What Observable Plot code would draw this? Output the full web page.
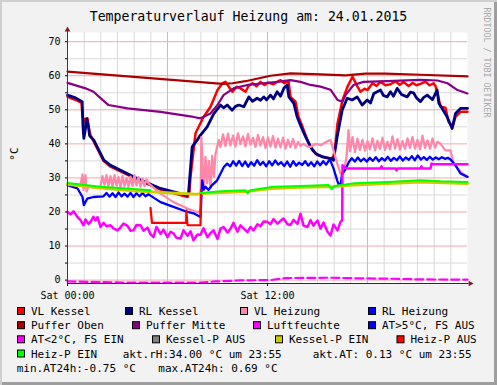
<!DOCTYPE html>
<html><head><meta charset="utf-8">
<script src="https://cdn.jsdelivr.net/npm/d3@7"></script>
<script src="https://cdn.jsdelivr.net/npm/@observablehq/plot@0.6"></script>
<style>
html,body{margin:0;padding:0;background:#f2f2f2;}
#wrap{position:relative;width:497px;height:385px;background:#f2f2f2;box-shadow: inset 2px 2px 0 #cfcfcf, inset -3px -3px 0 #9e9e9e;overflow:hidden;}
#wrap svg{position:absolute;left:0;top:0;}
</style></head><body><div id="wrap"></div>
<script>
// ---------- data (hours since 00:00, °C / %) ----------
const titleText = "Temperaturverlauf Heizung am: 24.01.2015";
const watermark = "RRDTOOL / TOBI OETIKER";
const yUnit = "°C";
const xLabelTicks = [0, 12];
const xLabels = ["Sat 00:00", "Sat 12:00"];
const yTicks = [0, 5, 10, 15, 20, 25, 30, 35, 40, 45, 50, 55, 60, 65, 70];

const pufferOben = [[0,61.2],[9.3,57.6],[9.9,57.8],[10.68,58.4],[12.18,60.0],[13.38,60.7],[15.18,60.4],[16.68,60.1],[17.88,60.6],[19.08,60.6],[21.18,60.3],[24,59.8]];

const pufferMitte = [[0,57.9],[1.08,56.3],[1.56,55.3],[2.1,52.9],[2.46,51.4],[3.6,50.4],[5.58,49.4],[7.56,47.9],[7.98,47.5],[8.58,48.9],[9.0,51.4],[9.36,54.3],[9.96,56.3],[10.8,57.3],[11.76,57.8],[12.6,58.2],[13.38,58.7],[13.98,58.2],[14.58,57.3],[15.18,56.8],[15.78,55.9],[16.2,52.9],[16.5,52.4],[16.68,54.3],[17.16,57.3],[17.76,58.2],[19.2,58.4],[21.18,58.8],[22.2,58.6],[22.8,57.8],[23.4,55.8],[24,54.8]];

const vlKessel = [[0,53.8],[0.54,52.8],[0.84,52.0],[0.9,48.0],[1.02,47.0],[1.14,45.5],[1.2,47.5],[1.26,45.0],[1.38,42.5],[1.56,40.8],[2.16,35.0],[2.58,33.3],[4.2,29.5],[5.58,26.6],[7.2,24.4],[7.32,26.0],[7.38,30.3],[7.68,43.1],[8.16,47.9],[8.58,50.9],[9.0,55.8],[9.3,57.8],[9.48,58.2],[9.72,56.5],[9.9,55.3],[10.14,56.8],[10.38,56.3],[10.68,55.3],[10.86,57.0],[11.1,57.8],[11.34,56.9],[11.58,58.2],[11.82,57.3],[12.06,58.0],[12.36,57.5],[12.6,58.3],[12.78,58.7],[13.02,57.8],[13.26,58.4],[13.38,53.8],[13.68,52.4],[13.86,47.9],[14.1,45.0],[14.4,41.1],[14.7,38.1],[15.0,36.7],[15.36,36.2],[15.78,35.7],[15.96,36.2],[16.08,40.0],[16.2,46.0],[16.5,52.9],[16.8,56.8],[17.1,59.7],[17.4,56.8],[17.58,55.3],[17.82,56.2],[18.0,55.8],[18.3,57.8],[18.54,57.0],[18.78,58.2],[19.08,57.2],[19.38,57.5],[19.68,58.4],[19.92,57.3],[20.16,58.2],[20.46,57.0],[20.7,57.9],[20.94,57.2],[21.18,57.6],[21.48,58.3],[21.72,57.2],[21.96,57.8],[22.08,57.0],[22.2,54.8],[22.38,50.9],[22.68,50.6],[22.86,46.5],[23.1,45.0],[23.28,47.9],[23.58,49.4],[24,49.4]];

const rlKessel = [[0,54.3],[0.48,53.5],[0.88,52.4],[0.93,45.0],[0.98,41.6],[1.08,44.5],[1.14,47.4],[1.2,46.5],[1.26,45.0],[1.32,42.5],[1.38,42.1],[1.58,41.1],[2.18,35.2],[2.58,33.7],[4.18,29.8],[5.58,26.9],[7.18,24.9],[7.26,25.5],[7.48,39.1],[7.78,41.1],[7.98,42.6],[8.38,45.0],[8.78,48.9],[9.18,51.4],[9.36,50.6],[9.58,51.4],[9.88,49.9],[10.08,51.0],[10.28,51.4],[10.58,50.9],[10.88,53.8],[11.1,52.5],[11.38,53.4],[11.58,52.8],[11.78,53.8],[11.94,52.9],[12.18,54.3],[12.36,53.2],[12.58,55.3],[12.78,54.0],[12.98,56.3],[13.18,57.3],[13.28,53.8],[13.58,51.9],[13.78,47.9],[13.98,45.5],[14.28,42.1],[14.58,39.1],[14.88,37.2],[15.28,36.2],[15.78,35.7],[15.96,35.2],[16.18,42.1],[16.48,49.9],[16.78,53.4],[17.08,52.9],[17.38,53.8],[17.68,51.4],[17.98,52.9],[18.18,52.0],[18.38,54.8],[18.78,55.8],[18.96,54.2],[19.18,53.8],[19.38,55.3],[19.56,54.0],[19.78,56.3],[20.04,54.5],[20.38,53.8],[20.58,55.2],[20.76,55.0],[20.94,53.5],[21.18,52.4],[21.36,53.6],[21.58,54.3],[21.9,53.0],[22.18,55.8],[22.28,51.9],[22.48,50.4],[22.78,47.9],[23.08,44.5],[23.28,48.9],[23.58,50.4],[24,50.4]];

const vlHeizung = [[0,28.0],[0.78,28.0],[0.9,31.0],[0.96,26.5],[1.08,30.8],[1.14,26.0],[1.26,27.5],[1.74,27.0],[1.98,27.5],[2.1,30.5],[2.22,28.0],[2.34,30.8],[2.46,27.6],[2.58,30.5],[2.7,27.4],[2.82,30.8],[2.94,27.8],[3.06,30.2],[3.18,27.4],[3.3,30.6],[3.42,27.6],[3.54,30.0],[3.66,27.4],[3.78,30.4],[3.9,27.6],[4.02,30.8],[4.14,27.8],[4.26,30.2],[4.38,27.4],[4.5,29.8],[4.62,27.6],[4.74,29.6],[4.86,28.4],[5.58,25.4],[6.36,22.9],[7.2,21.0],[7.74,20.0],[7.98,20.0],[8.03,42.0],[8.18,26.4],[8.28,36.2],[8.38,28.4],[8.48,35.0],[8.58,27.0],[8.68,36.5],[8.78,30.4],[8.88,37.0],[9.08,41.1],[9.18,39.1],[9.33,42.8],[9.48,39.4],[9.63,43.0],[9.78,39.6],[9.93,42.4],[10.08,39.2],[10.23,43.1],[10.38,40.0],[10.53,42.2],[10.68,39.3],[10.83,42.9],[10.98,39.8],[11.13,41.8],[11.28,39.1],[11.43,42.6],[11.58,39.5],[11.73,42.0],[11.88,38.8],[12.03,41.9],[12.18,39.2],[12.33,42.3],[12.48,38.9],[12.63,41.5],[12.78,39.0],[12.93,41.8],[13.08,38.6],[13.23,41.2],[13.38,39.0],[13.53,41.4],[13.68,38.8],[13.83,40.6],[13.98,39.4],[14.16,40.0],[14.4,39.2],[14.58,39.1],[14.8,39.8],[14.94,40.0],[15.2,39.6],[15.36,40.1],[15.6,40.8],[15.78,41.1],[15.96,38.1],[16.18,34.3],[16.38,31.3],[16.56,31.3],[16.74,36.0],[16.86,44.0],[16.95,37.8],[17.1,42.0],[17.25,37.6],[17.4,41.5],[17.55,38.2],[17.7,41.2],[17.85,38.0],[18.0,40.8],[18.15,38.4],[18.3,41.6],[18.45,38.1],[18.6,40.9],[18.75,38.5],[18.9,41.8],[19.05,38.2],[19.2,40.6],[19.35,38.4],[19.5,42.2],[19.65,38.6],[19.8,41.4],[19.95,38.3],[20.1,40.8],[20.25,38.5],[20.4,41.6],[20.55,38.8],[20.7,42.0],[20.85,38.6],[21.0,41.2],[21.15,38.4],[21.3,42.4],[21.45,38.8],[21.6,41.0],[21.75,38.6],[21.9,41.6],[22.05,38.9],[22.2,40.6],[22.38,40.0],[22.68,38.1],[22.98,38.1],[23.16,34.3],[23.58,31.8],[24,30.3]];

const rlHeizung = [[0,27.9],[0.6,26.9],[0.9,24.4],[0.98,22.0],[1.18,23.9],[1.56,24.4],[2.16,24.6],[2.34,25.6],[2.52,24.5],[2.7,25.5],[2.88,24.4],[3.06,25.7],[3.24,24.6],[3.42,25.4],[3.6,24.5],[3.78,25.6],[3.96,24.4],[4.14,25.5],[4.32,24.6],[4.5,25.6],[4.68,24.6],[4.86,25.2],[4.98,24.8],[5.58,22.9],[6.36,21.5],[7.2,20.0],[7.56,19.6],[7.98,18.5],[8.08,29.3],[8.18,26.6],[8.28,27.4],[8.46,26.5],[8.68,27.9],[8.98,29.3],[9.38,33.2],[9.58,34.2],[9.76,33.4],[9.94,34.9],[10.12,33.6],[10.3,35.0],[10.48,33.5],[10.66,34.8],[10.84,33.3],[11.02,34.6],[11.2,33.6],[11.38,35.2],[11.56,33.8],[11.74,34.7],[11.92,33.4],[12.1,34.9],[12.28,33.7],[12.46,35.1],[12.64,33.9],[12.82,34.6],[13.0,33.5],[13.18,34.8],[13.36,33.3],[13.54,34.9],[13.72,33.6],[13.9,34.5],[14.08,33.8],[14.26,34.9],[14.44,33.6],[14.62,34.6],[14.8,33.4],[14.98,34.8],[15.16,33.7],[15.34,34.9],[15.52,33.9],[15.7,35.2],[15.78,35.0],[15.96,32.8],[16.18,29.3],[16.26,28.2],[16.38,27.9],[16.48,31.3],[16.68,32.5],[16.88,34.7],[17.06,35.8],[17.24,34.8],[17.42,36.0],[17.6,34.9],[17.78,35.7],[17.96,34.8],[18.14,35.9],[18.32,35.0],[18.5,36.1],[18.68,34.9],[18.86,35.8],[19.04,35.1],[19.22,36.2],[19.4,35.0],[19.58,35.9],[19.76,35.2],[19.94,36.3],[20.12,35.1],[20.3,36.0],[20.48,35.3],[20.66,36.4],[20.84,35.2],[21.02,36.6],[21.2,35.4],[21.38,36.1],[21.56,35.3],[21.74,36.2],[21.92,35.4],[22.1,36.0],[22.28,35.5],[22.46,36.1],[22.64,35.6],[22.82,35.9],[22.98,35.4],[23.28,33.7],[23.58,31.3],[24,30.3]];

const luftfeuchte = [[0,20.0],[0.18,19.3],[0.36,20.2],[0.6,18.5],[0.78,17.6],[0.96,16.1],[1.08,17.8],[1.26,16.5],[1.38,17.1],[1.56,18.6],[1.68,17.5],[1.8,18.5],[1.98,15.6],[2.16,16.8],[2.34,15.8],[2.58,16.1],[2.76,15.2],[3.0,14.6],[3.18,15.5],[3.36,16.6],[3.6,15.9],[3.78,14.5],[3.96,14.6],[4.14,16.2],[4.38,16.1],[4.56,14.5],[4.8,15.4],[4.98,13.5],[5.16,12.6],[5.34,15.6],[5.58,13.6],[5.76,14.8],[6.0,12.6],[6.18,14.2],[6.36,13.7],[6.54,12.4],[6.78,12.2],[6.96,14.6],[7.2,13.0],[7.38,14.3],[7.56,11.7],[7.8,13.4],[7.98,13.3],[8.16,15.2],[8.4,12.6],[8.58,13.8],[8.76,14.6],[9.0,12.1],[9.18,15.1],[9.36,15.6],[9.6,14.0],[9.78,15.1],[9.96,16.8],[10.2,14.2],[10.38,16.1],[10.56,15.2],[10.8,14.1],[10.98,15.6],[11.16,14.6],[11.4,16.4],[11.58,15.8],[11.76,17.2],[12.0,17.1],[12.18,16.4],[12.36,17.9],[12.6,16.6],[12.78,17.4],[12.96,18.1],[13.2,16.4],[13.38,16.2],[13.56,17.7],[13.8,16.5],[13.98,19.5],[14.16,16.0],[14.4,15.6],[14.58,17.6],[14.76,16.0],[15.0,17.5],[15.18,15.1],[15.36,16.9],[15.6,14.2],[15.78,13.1],[15.96,16.3],[16.2,14.6],[16.38,17.1],[16.48,17.5],[16.5,33.7],[16.74,32.8],[18.78,32.8],[18.84,33.4],[18.9,32.8],[19.68,32.8],[19.74,32.2],[19.8,32.8],[21.18,32.8],[21.24,33.4],[21.3,32.8],[21.78,32.8],[21.84,34.2],[22.0,34.0],[24,34.0]];

const aussenTemp = [[0,-0.4],[2,-0.6],[3.78,-0.75],[5.58,-0.75],[7.98,-0.7],[8.88,-0.4],[10.38,-0.1],[12.18,0.0],[13.08,0.6],[15.78,0.69],[17.58,0.5],[19.38,0.4],[21.18,0.2],[24,0.13]];

const kesselPEin = [[0,28.1],[1.98,27.0],[3.78,26.3],[4.98,25.9],[6.54,25.5],[7.68,25.2],[7.98,25.4],[9.18,25.7],[10.68,26.0],[12.36,26.9],[13.98,27.2],[15.66,27.4],[17.16,27.9],[19.2,28.3],[21.18,28.8],[24,28.3]];

const heizPAus = [[4.98,21.2],[5.07,16.8],[7.12,16.8],[7.13,20.5],[7.2,16.1],[7.98,16.1],[8.01,26.5]];

const heizPEin1 = [[0,28.5],[1.98,27.4],[3.78,26.8],[4.98,26.4]];
const heizPEin2 = [[7.98,25.6],[9.18,26.1],[10.68,26.4],[10.8,25.5],[10.98,26.4],[12.36,27.4],[13.98,27.6],[15.66,27.9],[15.84,26.7],[16.02,27.6],[17.16,28.4],[19.2,28.8],[21.18,29.3],[22.38,29.0],[24,28.8]];

const legendLabels = ["VL Kessel","RL Kessel","VL Heizung","RL Heizung","Puffer Oben","Puffer Mitte","Luftfeuchte","AT>5°C, FS AUS","AT<2°C, FS EIN","Kessel-P AUS","Kessel-P EIN","Heiz-P AUS","Heiz-P EIN"];
const legendColors = ["#ff0000","#000080","#ff88aa","#0000ff","#aa0000","#880088","#ff00ff","#0000ff","#ff00ff","#808080","#cccc00","#ff0000","#00ff00"];
const infoTexts = ["akt.rH:34.00 °C um 23:55", "akt.AT: 0.13 °C um 23:55", "min.AT24h:-0.75 °C", "max.AT24h: 0.69 °C"];

// ---------- layout ----------
const legendPos = [[17,0],[125,0],[240,0],[368,0],[17,1],[132,1],[253,1],[368,1],[17,2],[152,2],[275,2],[396.5,2],[17,3]];
const infoPos = [[122.7,3],[312.7,3],[16.7,4],[158.3,4]];
const rowBase = [315, 329.2, 343.3, 357.5, 371.6];

const pts = a => a.map(([h, v]) => ({h, v}));
const Y0 = -1.0, Y1 = 72.7;
const ln = (a, color, w, extra = {}) => Plot.line(pts(a), {x: "h", y: "v", stroke: color, strokeWidth: w, ...extra});

const chart = Plot.plot({
  width: 497, height: 385,
  marginLeft: 67, marginRight: 30, marginTop: 32, marginBottom: 102,
  style: {background: "transparent", fontFamily: "'DejaVu Sans Mono', monospace", fontSize: "10px", color: "#000"},
  x: {domain: [0, 24]},
  y: {domain: [Y0, Y1]},
  marks: [
    Plot.frame({fill: "#ffffff", stroke: "none"}),
    Plot.ruleY(yTicks.filter(d => d % 10 !== 0), {stroke: "#dadada"}),
    Plot.ruleX(d3.range(1, 24).filter(d => d % 6 !== 0), {stroke: "#dadada"}),
    Plot.ruleY(yTicks.filter(d => d % 10 === 0), {stroke: "#f2a9a9"}),
    Plot.ruleX([6, 12, 18], {stroke: "#f2a9a9"}),
    ln(vlKessel, "#ff0000", 2.5),
    ln(rlKessel, "#000080", 2.8),
    ln(vlHeizung, "#ff88aa", 2.3),
    ln(rlHeizung, "#0000ff", 2.3),
    ln(pufferOben, "#aa0000", 2.2),
    ln(pufferMitte, "#880088", 2.2),
    ln(luftfeuchte, "#ff00ff", 2.5),
    ln(aussenTemp, "#ff00ff", 2.2, {strokeDasharray: "8,4"}),
    ln(kesselPEin, "#cccc00", 2.8),
    ln(heizPAus, "#ff0000", 2.2),
    ln(heizPEin1, "#00ff00", 2),
    ln(heizPEin2, "#00ff00", 2),
    Plot.axisY({ticks: yTicks, tickSize: 2, tickPadding: 5, tickFormat: d => d % 10 === 0 ? String(d) : "", fontSize: 10, label: null}),
    Plot.axisX({ticks: xLabelTicks, tickSize: 3, tickPadding: 5, tickFormat: d => xLabels[xLabelTicks.indexOf(d)], fontSize: 10, label: null}),
    Plot.ruleY([Y0], {x1: 0, x2: 24.1, stroke: "#2a2a3a"}),
    Plot.ruleX([0], {y1: Y0, y2: 73.6, stroke: "#6a2626"}),
    Plot.dot([{h: 0, v: 73.5}], {x: "h", y: "v", symbol: "triangle", r: 2.1, fill: "#7f1f1f", stroke: "none"}),
    Plot.dot([{h: 24.17, v: Y0}], {x: "h", y: "v", symbol: "triangle", r: 2.1, rotate: 90, fill: "#7f1f1f", stroke: "none"})
  ]
});
document.getElementById("wrap").appendChild(chart);

// ---------- title, legend and annotations ----------
const ov = d3.select("#wrap").append("svg").attr("width", 497).attr("height", 385)
  .style("font-family", "'DejaVu Sans Mono', monospace");
ov.append("text").attr("x", 248.5).attr("y", 21).attr("text-anchor", "middle").attr("font-size", 13.2).attr("fill", "#000").text(titleText);
ov.append("text").attr("transform", "translate(484,7.5) rotate(90)").attr("font-size", 8.3).attr("fill", "#a8a8a8").text(watermark);
ov.append("text").attr("transform", "translate(18,154) rotate(-90)").attr("text-anchor", "middle").attr("font-size", 11).attr("fill", "#000").text(yUnit);

legendLabels.forEach((lab, i) => {
  const [x, r] = legendPos[i];
  const b = rowBase[r];
  ov.append("rect").attr("x", x + 0.5).attr("y", b - 7.5).attr("width", 7).attr("height", 7)
    .attr("fill", legendColors[i]).attr("stroke", "#000").attr("stroke-width", 1);
  ov.append("text").attr("x", x + 14).attr("y", b).attr("font-size", 11).attr("fill", "#000").text(lab);
});
infoTexts.forEach((t, i) => {
  const [x, r] = infoPos[i];
  ov.append("text").attr("x", x).attr("y", rowBase[r]).attr("font-size", 11).attr("fill", "#000").attr("xml:space", "preserve").style("white-space", "pre").text(t);
});
</script></body></html>
